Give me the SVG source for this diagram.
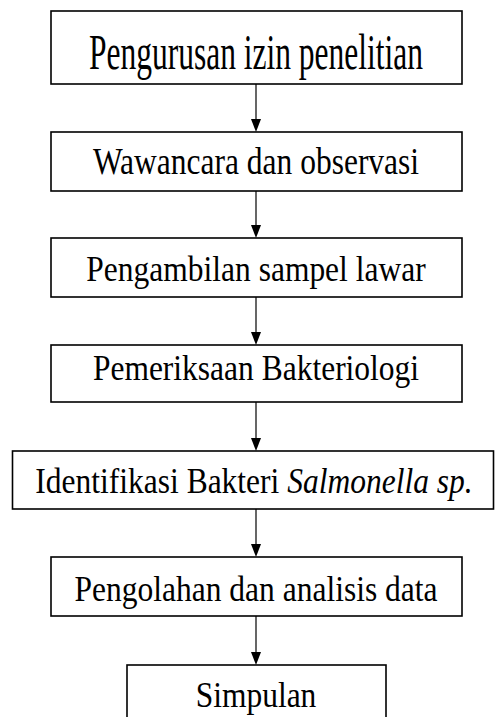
<svg xmlns="http://www.w3.org/2000/svg" width="495" height="717" viewBox="0 0 495 717">
<style>
.box{fill:#fff;stroke:#000;stroke-width:1.6}
.lbl{font-family:"Liberation Serif","Times New Roman",serif;font-size:31.5px;fill:#000;text-anchor:middle}
.it{font-style:italic}
.ln{stroke:#000;stroke-width:1.2}
.hd{fill:#000}
</style>
<rect width="495" height="717" fill="#fff"/>
<g id="connectors">
<line class="ln" x1="256" y1="84" x2="256" y2="120"/>
<polygon class="hd" points="251,119 261,119 256,132"/>
<line class="ln" x1="256" y1="191" x2="256" y2="226"/>
<polygon class="hd" points="251,225 261,225 256,238"/>
<line class="ln" x1="256" y1="297" x2="256" y2="333"/>
<polygon class="hd" points="251,332 261,332 256,345"/>
<line class="ln" x1="256" y1="402" x2="256" y2="439"/>
<polygon class="hd" points="251,438 261,438 256,451"/>
<line class="ln" x1="256" y1="509" x2="256" y2="545"/>
<polygon class="hd" points="251,544 261,544 256,557"/>
<line class="ln" x1="256" y1="616" x2="256" y2="653"/>
<polygon class="hd" points="251,652 261,652 256,665"/>
</g>
<g id="n1">
<rect class="box" x="51" y="11" width="411" height="73"/>
<text class="lbl" transform="translate(256,69) scale(1,1.6)">Pengurusan izin penelitian</text>
</g>
<g id="n2">
<rect class="box" x="51" y="132" width="411" height="59"/>
<text class="lbl" transform="translate(256,174) scale(1,1.18)">Wawancara dan observasi</text>
</g>
<g id="n3">
<rect class="box" x="51" y="238" width="411" height="59"/>
<text class="lbl" transform="translate(256,281) scale(1,1.15)">Pengambilan sampel lawar</text>
</g>
<g id="n4">
<rect class="box" x="51" y="345" width="411" height="57"/>
<text class="lbl" transform="translate(256,380) scale(1,1.15)">Pemeriksaan Bakteriologi</text>
</g>
<g id="n5">
<rect class="box" x="12.5" y="451" width="481" height="58"/>
<text class="lbl" transform="translate(254,493) scale(1,1.15)">Identifikasi Bakteri <tspan class="it">Salmonella sp.</tspan></text>
</g>
<g id="n6">
<rect class="box" x="51" y="557" width="411" height="59"/>
<text class="lbl" transform="translate(256,601) scale(1,1.15)">Pengolahan dan analisis data</text>
</g>
<g id="n7">
<rect class="box" x="127" y="665" width="259" height="60"/>
<text class="lbl" transform="translate(256,707) scale(1,1.12)">Simpulan</text>
</g>
</svg>
